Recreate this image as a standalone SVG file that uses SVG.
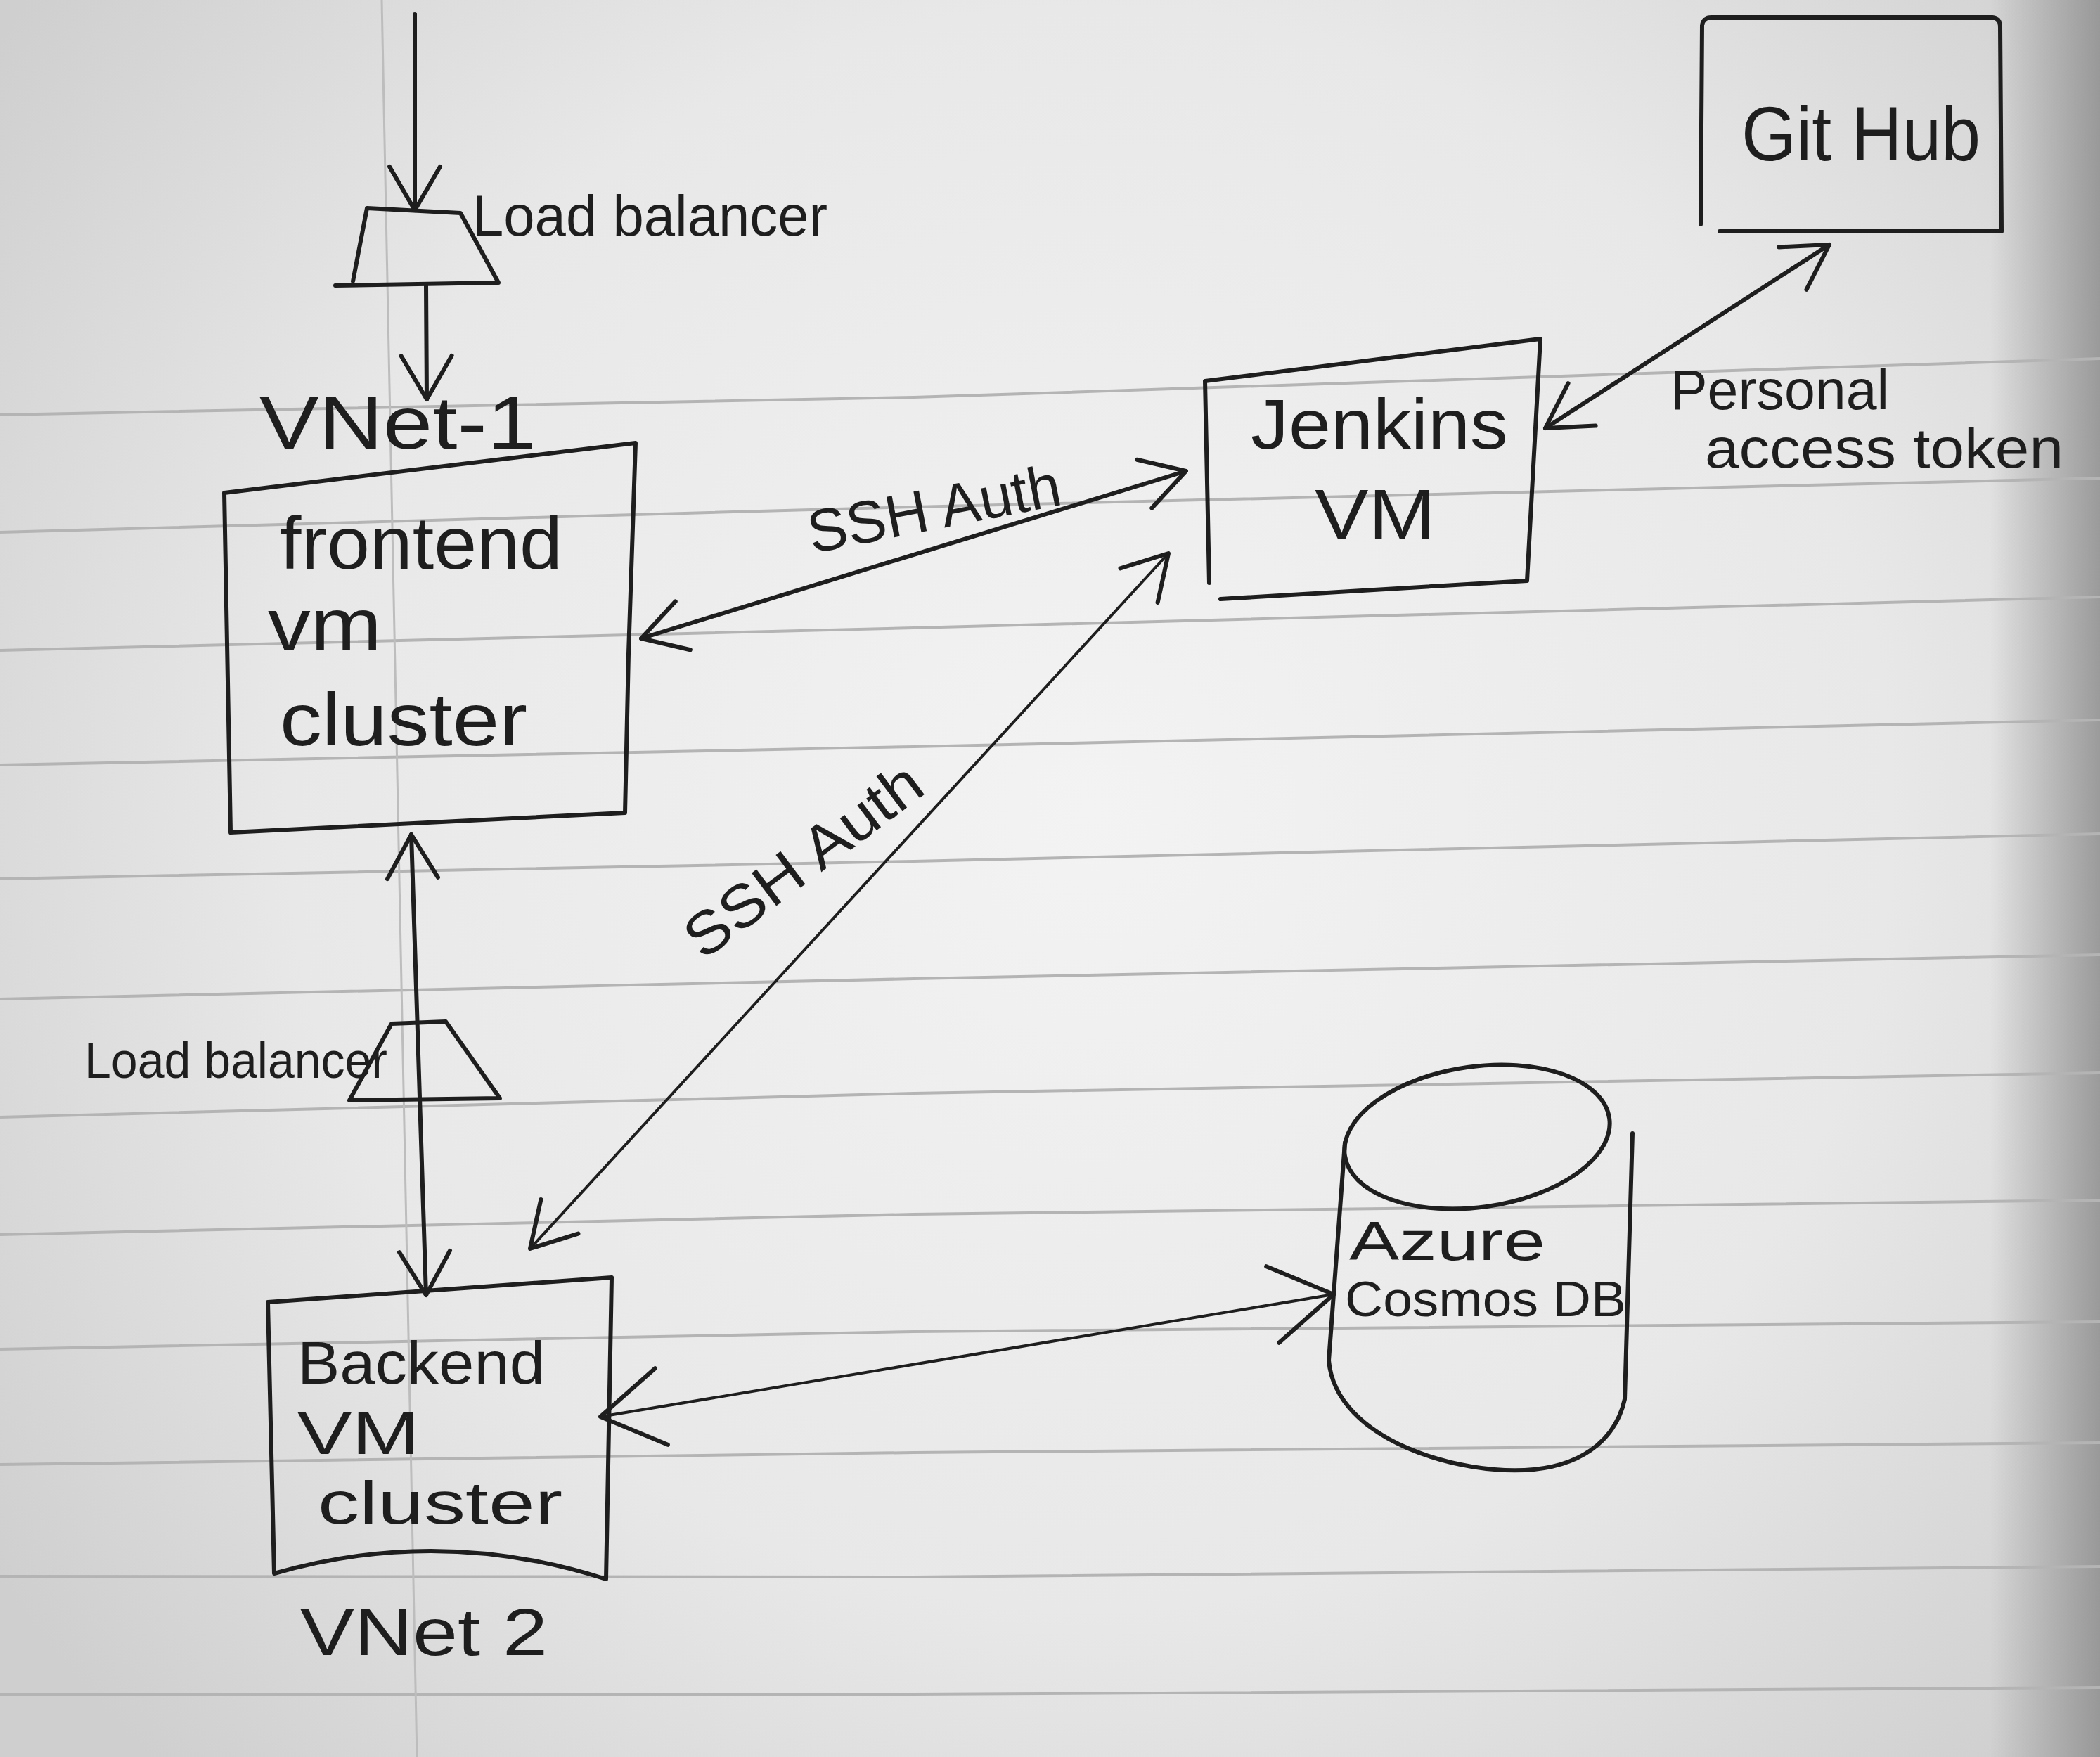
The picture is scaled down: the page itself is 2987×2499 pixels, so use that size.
<svg xmlns="http://www.w3.org/2000/svg" width="2987" height="2499" viewBox="0 0 2987 2499">
<defs>
<style>
.ink{fill:none;stroke:#1e1e1e;stroke-width:6;stroke-linecap:round;stroke-linejoin:round}
.thin{fill:none;stroke:#1e1e1e;stroke-width:4;stroke-linecap:round}
.txt{font-family:"Liberation Sans","DejaVu Sans",sans-serif;fill:#1e1e1e}
.rule{fill:none;stroke:#b4b4b4;stroke-width:4}
</style>
<radialGradient id="paper" cx="1550" cy="1150" r="1900" gradientUnits="userSpaceOnUse">
<stop offset="0" stop-color="#f3f3f3"/>
<stop offset="0.6" stop-color="#e8e8e8"/>
<stop offset="1" stop-color="#cfcfcf"/>
</radialGradient>
<linearGradient id="edge" x1="2830" y1="0" x2="2987" y2="0" gradientUnits="userSpaceOnUse">
<stop offset="0" stop-color="#8a8a8a" stop-opacity="0"/>
<stop offset="1" stop-color="#8a8a8a" stop-opacity="0.8"/>
</linearGradient>
<marker id="ah" viewBox="-80 -50 90 100" markerWidth="90" markerHeight="100" refX="0" refY="0" orient="auto-start-reverse" markerUnits="userSpaceOnUse">
<path d="M -62 -36 L 0 0 L -62 36" fill="none" stroke="#1e1e1e" stroke-width="6" stroke-linecap="round" stroke-linejoin="round"/>
</marker>
<marker id="ahL" viewBox="-110 -70 120 140" markerWidth="120" markerHeight="140" refX="0" refY="0" orient="auto-start-reverse" markerUnits="userSpaceOnUse">
<path d="M -88 -55 L 0 0 L -88 55" fill="none" stroke="#1e1e1e" stroke-width="6" stroke-linecap="round" stroke-linejoin="round"/>
</marker>
</defs>

<g id="paper-bg">
<rect x="0" y="0" width="2987" height="2499" fill="url(#paper)"/>
<rect x="2830" y="0" width="157" height="2499" fill="url(#edge)"/>
<polyline class="rule" points="0,590 1300,565 2987,510"/>
<polyline class="rule" points="0,757 1300,721 2987,680"/>
<polyline class="rule" points="0,925 1300,893 2987,849"/>
<polyline class="rule" points="0,1088 1300,1062 2987,1024"/>
<polyline class="rule" points="0,1250 1300,1225 2987,1186"/>
<polyline class="rule" points="0,1421 1300,1392 2987,1358"/>
<polyline class="rule" points="0,1589 1300,1555 2987,1526"/>
<polyline class="rule" points="0,1756 1300,1727 2987,1707"/>
<polyline class="rule" points="0,1919 1300,1894 2987,1880"/>
<polyline class="rule" points="0,2083 1300,2066 2987,2052"/>
<polyline class="rule" points="0,2242 1300,2243 2987,2228"/>
<polyline class="rule" points="0,2410 1300,2410 2987,2400"/>
<line x1="543" y1="0" x2="593" y2="2499" stroke="#bdbdbd" stroke-width="3"/>
</g>

<g id="connectors">
<line class="ink" x1="590" y1="20" x2="590" y2="299" marker-end="url(#ah)"/>
<line class="ink" x1="606" y1="406" x2="607" y2="568" marker-end="url(#ah)"/>
<line class="ink" x1="585" y1="1187" x2="606" y2="1842" marker-start="url(#ah)" marker-end="url(#ah)"/>
<line class="ink" x1="912" y1="908" x2="1687" y2="670" marker-start="url(#ah)" marker-end="url(#ah)"/>
<line class="thin" x1="754" y1="1776" x2="1662" y2="787" marker-start="url(#ah)" marker-end="url(#ah)"/>
<line class="ink" x1="2198" y1="609" x2="2602" y2="348" marker-start="url(#ah)" marker-end="url(#ah)"/>
<line class="thin" x1="854" y1="2015" x2="1897" y2="1841" marker-start="url(#ahL)" marker-end="url(#ahL)"/>
<text class="txt" font-size="85" x="1155" y="787" textLength="365" lengthAdjust="spacingAndGlyphs" transform="rotate(-11 1155 787)">SSH Auth</text>
<text class="txt" font-size="85" x="1000" y="1367" textLength="400" lengthAdjust="spacingAndGlyphs" transform="rotate(-37 1000 1367)">SSH Auth</text>
<text class="txt" font-size="80" x="2376" y="582" textLength="311" lengthAdjust="spacingAndGlyphs">Personal</text>
<text class="txt" font-size="80" x="2425" y="665" textLength="510" lengthAdjust="spacingAndGlyphs">access token</text>
</g>

<g id="lb1">
<path class="ink" d="M 477 406 L 709 402 L 655 303 L 522 296 L 502 400"/>
<text class="txt" font-size="82" x="672" y="335" textLength="505" lengthAdjust="spacingAndGlyphs">Load balancer</text>
</g>

<g id="vnet1-label">
<text class="txt" font-size="105" x="369" y="638" textLength="394" lengthAdjust="spacingAndGlyphs">VNet-1</text>
</g>

<g id="frontend">
<path class="ink" d="M 319 701 L 904 630 L 894 930 L 889 1156 L 328 1184 Z"/>
<text class="txt" font-size="105" x="398" y="809" textLength="402" lengthAdjust="spacingAndGlyphs">frontend</text>
<text class="txt" font-size="105" x="381" y="925" textLength="162" lengthAdjust="spacingAndGlyphs">vm</text>
<text class="txt" font-size="105" x="398" y="1060" textLength="352" lengthAdjust="spacingAndGlyphs">cluster</text>
</g>

<g id="lb2">
<path class="ink" d="M 497 1565 L 711 1562 L 634 1453 L 557 1456 Z"/>
<text class="txt" font-size="72" x="120" y="1533" textLength="431" lengthAdjust="spacingAndGlyphs">Load balancer</text>
</g>

<g id="backend">
<path class="ink" d="M 381 1852 L 870 1817 L 862 2246 Q 626 2170 390 2238 Z"/>
<text class="txt" font-size="86" x="423" y="1968" textLength="352" lengthAdjust="spacingAndGlyphs">Backend</text>
<text class="txt" font-size="86" x="423" y="2068" textLength="174" lengthAdjust="spacingAndGlyphs">VM</text>
<text class="txt" font-size="86" x="452" y="2167" textLength="348" lengthAdjust="spacingAndGlyphs">cluster</text>
</g>

<g id="vnet2-label">
<text class="txt" font-size="95" x="427" y="2354" textLength="352" lengthAdjust="spacingAndGlyphs">VNet 2</text>
</g>

<g id="jenkins">
<path class="ink" d="M 1720 829 L 1714 542 L 2191 482 L 2172 826 L 1736 852"/>
<text class="txt" font-size="100" x="1779" y="638" textLength="366" lengthAdjust="spacingAndGlyphs">Jenkins</text>
<text class="txt" font-size="100" x="1870" y="766" textLength="172" lengthAdjust="spacingAndGlyphs">VM</text>
</g>

<g id="github">
<path class="ink" d="M 2419 319 L 2421 36 Q 2423 25 2434 25 L 2834 25 Q 2845 26 2845 38 L 2847 329 L 2446 329"/>
<text class="txt" font-size="110" x="2477" y="228" textLength="340" lengthAdjust="spacingAndGlyphs">Git Hub</text>
</g>

<g id="cosmos">
<ellipse class="ink" cx="2101" cy="1617" rx="190" ry="100" transform="rotate(-8 2101 1617)"/>
<path class="ink" d="M 1913 1625 L 1890 1935 C 1900 2050 2080 2100 2182 2090 C 2260 2082 2300 2040 2311 1990 L 2322 1612"/>
<text class="txt" font-size="78" x="1919" y="1792" textLength="279" lengthAdjust="spacingAndGlyphs">Azure</text>
<text class="txt" font-size="70" x="1913" y="1872" textLength="400" lengthAdjust="spacingAndGlyphs">Cosmos DB</text>
</g>
</svg>
